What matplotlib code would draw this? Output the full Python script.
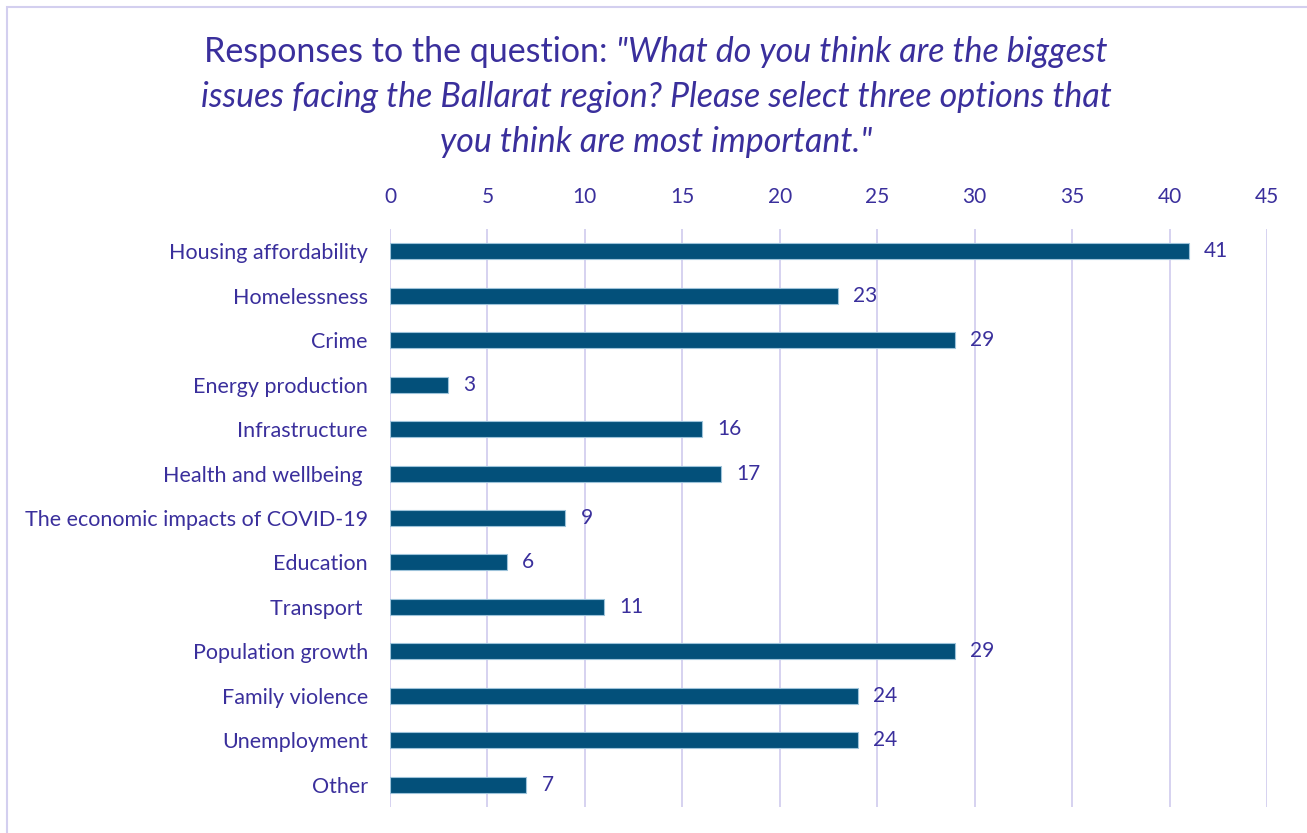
import matplotlib
matplotlib.use("Agg")
import matplotlib.pyplot as plt
from matplotlib.patches import Rectangle

categories = ["Housing affordability", "Homelessness", "Crime", "Energy production",
              "Infrastructure", "Health and wellbeing ", "The economic impacts of COVID-19",
              "Education", "Transport ", "Population growth", "Family violence",
              "Unemployment", "Other"]
values = [41, 23, 29, 3, 16, 17, 9, 6, 11, 29, 24, 24, 7]
xticks = [0, 5, 10, 15, 20, 25, 30, 35, 40, 45]

TXT = "#3A2F9C"
BAR = "#03507A"
GRID = "#D3CFEF"
FONT = "Lato"

plt.rcParams['font.family'] = [FONT, 'DejaVu Sans']

fig = plt.figure(figsize=(13.07, 8.33), dpi=100)
fig.patches.append(Rectangle((7/1307, -0.1), 1.2, (833-7)/833 + 0.1, transform=fig.transFigure,
                             fill=False, edgecolor=GRID, linewidth=1.5))

ax = fig.add_axes([390/1307, 1 - 807/833, (1267-390)/1307, (807-229)/833])
y = list(range(len(categories)))
ax.barh(y, values, height=0.36, color=BAR, edgecolor="#9DC3DA", linewidth=0.8, zorder=3)
ax.set_ylim(len(categories) - 0.5, -0.5)
ax.set_xlim(0, 45)
ax.set_xticks(xticks)
ax.xaxis.tick_top()
ax.tick_params(axis='x', length=0, pad=16, labelsize=15, labelcolor=TXT)
ax.tick_params(axis='y', length=0, pad=16, labelsize=15.5, labelcolor=TXT)
ax.set_yticks(y)
ax.set_yticklabels(categories)
ax.grid(axis='x', color=GRID, linewidth=1.3, zorder=0)
for s in ax.spines.values():
    s.set_visible(False)
for yi, v in zip(y, values):
    ax.annotate(str(v), (v, yi), xytext=(15, 0), textcoords='offset pixels',
                va='center', ha='left', fontsize=15, color=TXT)

# Title with mixed styles
cx = 656 / 1307
fs = 24.5
renderer = fig.canvas.get_renderer()
l1a = "Responses to the question: "
l1b = '"What do you think are the biggest'
ta = fig.text(0, 0, l1a, fontsize=fs, color=TXT)
tb = fig.text(0, 0, l1b, fontsize=fs, color=TXT, style='italic')
wa = ta.get_window_extent(renderer).width / 1307
wb = tb.get_window_extent(renderer).width / 1307
x0 = cx - (wa + wb) / 2
y1 = 1 - 52 / 833
ta.set_position((x0, y1)); ta.set_va('center')
tb.set_position((x0 + wa, y1)); tb.set_va('center')
fig.text(cx, 1 - 97 / 833, "issues facing the Ballarat region? Please select three options that",
         fontsize=fs, color=TXT, style='italic', ha='center', va='center')
fig.text(cx, 1 - 142 / 833, 'you think are most important."',
         fontsize=fs, color=TXT, style='italic', ha='center', va='center')

fig.savefig("out.png", dpi=100)
